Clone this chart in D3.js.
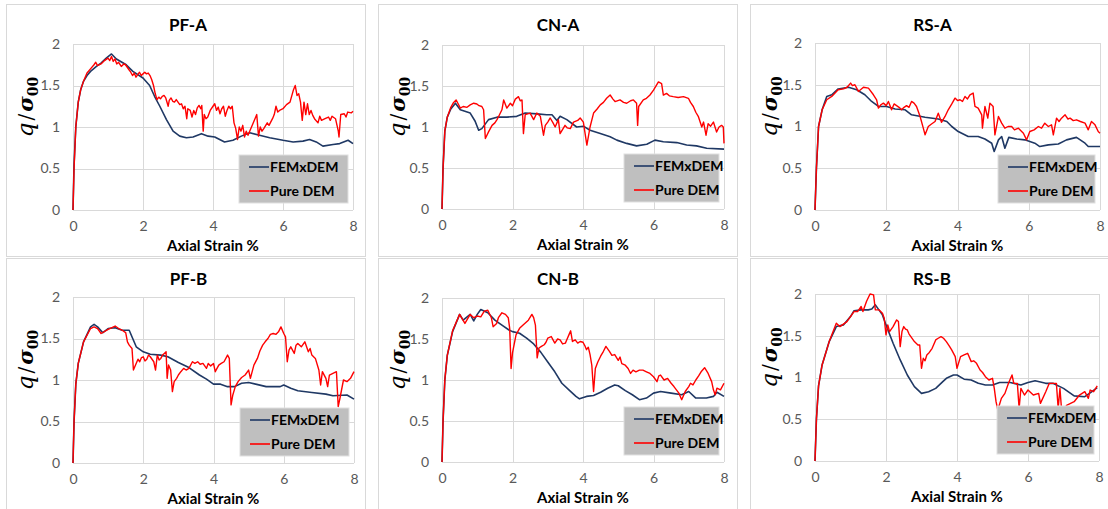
<!DOCTYPE html>
<html>
<head>
<meta charset="utf-8">
<script src="https://d3js.org/d3.v7.min.js"></script>
<style>
  body { margin: 0; background: #fff; }
  svg { display: block; font-family: Lato, "Open Sans", sans-serif; }
</style>
</head>
<body>
<script>
// ---- data ----
var panelTitles = ["PF-A", "CN-A", "RS-A", "PF-B", "CN-B", "RS-B"];
var seriesNames = ["FEMxDEM", "Pure DEM"];
var xTicks = [0, 2, 4, 6, 8];
var yTicks = [0, 0.5, 1, 1.5, 2];

var pfA_fem = [[0,0],[0.03,0.55],[0.08,1.0],[0.15,1.3],[0.22,1.45],[0.3,1.55],[0.4,1.62],[0.5,1.67],[0.67,1.73],[0.8,1.77],[0.95,1.83],[1.1,1.88],[1.24,1.82],[1.52,1.75],[1.71,1.67],[2.0,1.59],[2.19,1.5],[2.33,1.37],[2.48,1.25],[2.67,1.09],[2.86,0.95],[3.05,0.89],[3.24,0.87],[3.43,0.88],[3.67,0.92],[3.86,0.89],[4.05,0.88],[4.33,0.82],[4.57,0.84],[4.81,0.89],[5.05,0.93],[5.33,0.9],[5.62,0.87],[6.0,0.84],[6.29,0.82],[6.57,0.83],[6.76,0.85],[6.95,0.82],[7.14,0.77],[7.43,0.79],[7.62,0.8],[7.86,0.84],[8.0,0.8]];
var pfA_dem = [[0,0],[0.03,0.5],[0.08,1.0],[0.15,1.3],[0.22,1.45],[0.3,1.55],[0.4,1.65],[0.5,1.7],[0.6,1.75],[0.65,1.78],[0.7,1.74],[0.8,1.76],[0.9,1.8],[1.0,1.83],[1.05,1.8],[1.1,1.85],[1.15,1.79],[1.2,1.82],[1.25,1.76],[1.3,1.78],[1.38,1.73],[1.45,1.76],[1.5,1.75],[1.55,1.72],[1.6,1.69],[1.65,1.66],[1.7,1.62],[1.75,1.65],[1.8,1.6],[1.85,1.63],[1.9,1.66],[1.95,1.62],[2.0,1.64],[2.05,1.66],[2.1,1.64],[2.15,1.65],[2.2,1.62],[2.25,1.57],[2.3,1.5],[2.35,1.4],[2.4,1.33],[2.45,1.36],[2.5,1.34],[2.55,1.37],[2.6,1.38],[2.65,1.35],[2.72,1.25],[2.75,1.32],[2.8,1.35],[2.85,1.31],[2.9,1.3],[2.95,1.33],[3.0,1.3],[3.05,1.27],[3.1,1.28],[3.15,1.22],[3.2,1.25],[3.25,1.1],[3.28,1.22],[3.35,1.2],[3.4,1.12],[3.45,1.2],[3.5,1.15],[3.55,1.23],[3.6,1.26],[3.65,1.22],[3.68,1.26],[3.72,0.95],[3.75,1.15],[3.8,1.1],[3.85,1.12],[3.92,1.2],[4.0,1.25],[4.05,1.28],[4.1,1.2],[4.15,1.24],[4.2,1.16],[4.25,1.22],[4.3,1.25],[4.35,1.13],[4.4,1.2],[4.45,1.25],[4.5,1.22],[4.55,1.25],[4.6,1.05],[4.65,0.98],[4.7,0.85],[4.75,1.0],[4.8,0.95],[4.85,1.02],[4.9,0.88],[4.95,0.95],[5.0,0.9],[5.1,1.0],[5.2,1.1],[5.25,1.15],[5.3,0.89],[5.35,1.0],[5.4,0.95],[5.45,0.98],[5.55,1.05],[5.6,1.02],[5.7,1.1],[5.75,1.15],[5.8,1.25],[5.85,1.18],[5.9,1.2],[6.0,1.22],[6.1,1.27],[6.2,1.3],[6.3,1.45],[6.35,1.5],[6.4,1.38],[6.45,1.4],[6.5,1.3],[6.55,1.08],[6.6,1.3],[6.65,1.15],[6.7,1.28],[6.75,1.15],[6.8,1.2],[6.85,1.14],[6.9,1.1],[7.0,1.05],[7.05,1.13],[7.1,1.08],[7.2,1.1],[7.3,1.12],[7.35,1.08],[7.4,1.13],[7.5,1.1],[7.58,0.95],[7.6,0.88],[7.65,1.15],[7.75,1.16],[7.8,1.12],[7.85,1.18],[7.95,1.17],[8.0,1.19]];

var cnA_fem = [[0,0],[0.03,0.5],[0.08,0.95],[0.15,1.12],[0.25,1.22],[0.38,1.29],[0.52,1.21],[0.8,1.17],[0.94,1.07],[1.04,0.96],[1.13,0.98],[1.32,1.09],[1.56,1.12],[1.84,1.12],[2.12,1.13],[2.36,1.17],[2.69,1.16],[2.97,1.15],[3.12,1.15],[3.26,1.08],[3.35,1.13],[3.54,1.09],[3.82,1.0],[4.01,1.01],[4.2,0.96],[4.49,0.92],[4.77,0.88],[4.96,0.84],[5.24,0.8],[5.52,0.77],[5.81,0.79],[6.04,0.84],[6.28,0.82],[6.66,0.81],[6.94,0.78],[7.22,0.77],[7.51,0.74],[8.0,0.73]];
var cnA_dem = [[0,0],[0.03,0.5],[0.08,0.95],[0.15,1.12],[0.25,1.24],[0.33,1.3],[0.4,1.33],[0.45,1.29],[0.52,1.23],[0.6,1.25],[0.71,1.24],[0.8,1.27],[0.9,1.29],[0.99,1.28],[1.05,1.26],[1.13,1.25],[1.18,1.21],[1.23,0.86],[1.32,0.94],[1.42,1.02],[1.5,1.05],[1.56,1.09],[1.62,1.14],[1.7,1.21],[1.75,1.33],[1.84,1.23],[1.94,1.29],[2.0,1.26],[2.08,1.34],[2.17,1.37],[2.22,1.32],[2.27,1.33],[2.31,0.92],[2.36,1.15],[2.5,1.17],[2.6,1.09],[2.69,1.17],[2.79,1.13],[2.88,0.9],[2.93,1.02],[3.0,1.06],[3.07,1.11],[3.15,1.05],[3.21,1.0],[3.3,1.09],[3.35,0.92],[3.49,1.02],[3.55,0.99],[3.64,0.98],[3.73,1.06],[3.85,1.08],[3.92,1.11],[4.01,1.06],[4.11,0.78],[4.2,1.0],[4.3,1.17],[4.4,1.22],[4.49,1.27],[4.58,1.3],[4.67,1.35],[4.77,1.39],[4.85,1.34],[4.91,1.31],[5.05,1.33],[5.15,1.3],[5.24,1.29],[5.35,1.32],[5.43,1.33],[5.52,1.29],[5.55,1.02],[5.58,1.25],[5.71,1.33],[5.8,1.35],[5.9,1.39],[6.0,1.45],[6.14,1.55],[6.23,1.53],[6.28,1.39],[6.37,1.41],[6.45,1.38],[6.56,1.37],[6.7,1.36],[6.85,1.37],[6.99,1.35],[7.05,1.3],[7.13,1.25],[7.2,1.18],[7.27,1.13],[7.37,1.0],[7.42,1.06],[7.49,0.9],[7.55,1.04],[7.62,1.01],[7.7,1.06],[7.79,0.94],[7.86,1.0],[7.93,1.02],[7.98,1.0],[8.0,0.8]];

var rsA_fem = [[0,0],[0.04,0.5],[0.1,1.0],[0.2,1.2],[0.33,1.36],[0.47,1.38],[0.65,1.45],[0.94,1.47],[1.17,1.44],[1.4,1.38],[1.59,1.3],[1.78,1.24],[2.01,1.24],[2.25,1.21],[2.53,1.2],[2.71,1.14],[3.09,1.11],[3.46,1.09],[3.7,1.06],[3.84,1.0],[4.02,0.94],[4.3,0.88],[4.58,0.88],[4.77,0.85],[4.96,0.8],[5.03,0.7],[5.15,0.84],[5.24,0.88],[5.33,0.74],[5.44,0.87],[5.66,0.85],[5.89,0.84],[6.17,0.8],[6.31,0.76],[6.55,0.78],[6.83,0.79],[7.06,0.84],[7.34,0.87],[7.58,0.8],[7.67,0.76],[8.0,0.76]];
var rsA_dem = [[0,0],[0.04,0.5],[0.1,1.0],[0.2,1.2],[0.33,1.32],[0.47,1.36],[0.65,1.44],[0.8,1.45],[0.9,1.47],[1.0,1.52],[1.05,1.49],[1.12,1.5],[1.22,1.42],[1.36,1.47],[1.5,1.46],[1.64,1.38],[1.73,1.32],[1.78,1.22],[1.85,1.26],[1.92,1.28],[2.0,1.25],[2.06,1.3],[2.15,1.2],[2.22,1.27],[2.29,1.25],[2.36,1.23],[2.43,1.2],[2.5,1.23],[2.57,1.25],[2.64,1.23],[2.71,1.3],[2.78,1.28],[2.85,1.24],[2.95,1.12],[3.04,0.98],[3.09,0.9],[3.18,1.0],[3.27,1.03],[3.37,1.06],[3.46,1.16],[3.55,1.05],[3.65,1.12],[3.74,1.2],[3.84,1.27],[3.93,1.34],[4.0,1.31],[4.07,1.32],[4.14,1.3],[4.21,1.36],[4.28,1.33],[4.35,1.38],[4.44,1.4],[4.49,1.24],[4.58,1.22],[4.68,1.14],[4.7,0.98],[4.77,1.24],[4.85,1.1],[4.91,1.28],[5.0,1.24],[5.05,0.9],[5.15,1.12],[5.24,1.04],[5.33,0.98],[5.42,1.0],[5.52,1.0],[5.6,0.96],[5.71,0.98],[5.85,0.92],[5.94,0.84],[6.03,0.94],[6.15,0.96],[6.27,1.0],[6.36,0.98],[6.45,1.04],[6.55,1.0],[6.64,1.02],[6.69,0.9],[6.78,1.1],[6.85,1.06],[6.92,1.1],[7.02,1.14],[7.1,1.09],[7.16,1.1],[7.25,1.07],[7.34,1.08],[7.45,1.06],[7.58,1.04],[7.67,0.96],[7.76,1.06],[7.86,1.02],[7.95,0.94],[8.0,0.92]];

var pfB_fem = [[0,0],[0.03,0.5],[0.08,0.95],[0.15,1.2],[0.3,1.46],[0.5,1.64],[0.6,1.67],[0.7,1.64],[0.85,1.57],[1.0,1.62],[1.2,1.63],[1.4,1.6],[1.6,1.6],[1.7,1.5],[1.8,1.4],[2.0,1.34],[2.2,1.31],[2.5,1.3],[2.7,1.28],[3.0,1.21],[3.3,1.15],[3.6,1.06],[3.8,1.01],[4.0,0.95],[4.2,0.95],[4.4,0.92],[4.6,0.92],[4.8,0.96],[5.0,0.97],[5.2,0.95],[5.5,0.92],[5.9,0.92],[6.0,0.94],[6.2,0.9],[6.4,0.87],[6.8,0.85],[7.2,0.83],[7.4,0.81],[7.8,0.82],[8.0,0.77]];
var pfB_dem = [[0,0],[0.03,0.5],[0.08,0.95],[0.15,1.2],[0.3,1.46],[0.5,1.62],[0.6,1.64],[0.7,1.62],[0.8,1.56],[1.0,1.61],[1.2,1.65],[1.3,1.62],[1.4,1.6],[1.5,1.57],[1.55,1.46],[1.6,1.42],[1.68,1.38],[1.72,1.12],[1.78,1.18],[1.85,1.25],[1.9,1.22],[1.95,1.27],[2.0,1.28],[2.05,1.23],[2.1,1.25],[2.15,1.3],[2.2,1.28],[2.3,1.22],[2.35,1.12],[2.4,1.3],[2.45,1.24],[2.5,1.26],[2.55,1.3],[2.6,1.32],[2.65,1.34],[2.68,1.02],[2.72,1.18],[2.78,1.12],[2.83,0.86],[2.88,0.98],[2.95,1.02],[3.0,1.06],[3.07,1.1],[3.15,1.14],[3.22,1.12],[3.3,1.14],[3.4,1.22],[3.47,1.2],[3.55,1.22],[3.62,1.19],[3.7,1.2],[3.8,1.14],[3.85,1.2],[3.92,1.17],[4.0,1.2],[4.05,1.1],[4.15,1.18],[4.22,1.2],[4.3,1.22],[4.4,1.3],[4.45,1.26],[4.5,0.7],[4.55,0.82],[4.62,0.92],[4.7,0.98],[4.8,1.03],[4.9,1.06],[5.0,1.12],[5.05,1.02],[5.15,1.18],[5.25,1.26],[5.32,1.35],[5.4,1.42],[5.47,1.46],[5.55,1.5],[5.62,1.55],[5.7,1.56],[5.78,1.55],[5.85,1.58],[5.92,1.64],[6.0,1.56],[6.05,1.52],[6.1,1.22],[6.15,1.36],[6.2,1.4],[6.3,1.32],[6.35,1.42],[6.4,1.44],[6.5,1.4],[6.6,1.46],[6.7,1.34],[6.75,1.38],[6.8,1.3],[6.9,1.26],[7.0,1.12],[7.05,0.94],[7.1,1.1],[7.2,1.02],[7.25,0.92],[7.3,1.06],[7.4,1.08],[7.5,1.1],[7.55,0.68],[7.6,0.78],[7.7,1.0],[7.8,0.98],[7.9,1.02],[8.0,1.1]];

var cnB_fem = [[0,0],[0.03,0.5],[0.08,1.0],[0.15,1.3],[0.3,1.59],[0.5,1.8],[0.6,1.73],[0.8,1.8],[0.9,1.72],[1.0,1.8],[1.1,1.86],[1.3,1.82],[1.5,1.73],[1.7,1.67],[1.9,1.61],[2.0,1.59],[2.2,1.57],[2.4,1.51],[2.6,1.44],[2.8,1.34],[3.0,1.22],[3.2,1.1],[3.4,0.96],[3.6,0.88],[3.8,0.8],[3.9,0.77],[4.1,0.8],[4.3,0.81],[4.5,0.85],[4.7,0.9],[4.9,0.94],[5.0,0.93],[5.2,0.87],[5.4,0.82],[5.6,0.76],[5.8,0.78],[6.0,0.84],[6.2,0.86],[6.5,0.84],[6.8,0.82],[7.0,0.86],[7.2,0.78],[7.5,0.78],[7.7,0.8],[7.8,0.85],[8.0,0.8]];
var cnB_dem = [[0,0],[0.03,0.5],[0.08,1.0],[0.15,1.3],[0.3,1.6],[0.5,1.8],[0.65,1.69],[0.8,1.8],[0.9,1.76],[1.0,1.78],[1.1,1.77],[1.2,1.84],[1.3,1.85],[1.4,1.76],[1.45,1.65],[1.55,1.69],[1.6,1.76],[1.7,1.82],[1.8,1.8],[1.88,1.76],[1.92,1.63],[1.96,1.14],[2.0,1.33],[2.1,1.55],[2.2,1.63],[2.3,1.67],[2.45,1.73],[2.55,1.8],[2.6,1.76],[2.65,1.67],[2.7,1.27],[2.75,1.39],[2.82,1.41],[2.9,1.43],[2.95,1.46],[3.0,1.51],[3.1,1.53],[3.15,1.49],[3.2,1.45],[3.28,1.5],[3.35,1.49],[3.42,1.44],[3.5,1.45],[3.55,1.5],[3.6,1.55],[3.65,1.6],[3.7,1.47],[3.78,1.49],[3.85,1.45],[3.92,1.47],[4.0,1.46],[4.05,1.42],[4.1,1.37],[4.15,1.4],[4.2,1.31],[4.25,1.18],[4.3,0.86],[4.35,1.14],[4.42,1.22],[4.5,1.29],[4.58,1.35],[4.65,1.41],[4.75,1.35],[4.82,1.3],[4.9,1.31],[5.0,1.24],[5.05,1.28],[5.1,1.2],[5.2,1.18],[5.28,1.14],[5.35,1.08],[5.42,1.12],[5.5,1.1],[5.6,1.12],[5.7,1.12],[5.8,1.1],[5.9,1.08],[6.0,1.04],[6.1,0.98],[6.15,1.05],[6.2,1.06],[6.3,1.0],[6.4,1.02],[6.5,0.96],[6.58,0.92],[6.65,0.88],[6.72,0.84],[6.8,0.76],[6.9,0.86],[7.0,0.92],[7.05,0.96],[7.12,0.94],[7.2,1.0],[7.28,1.05],[7.35,1.1],[7.45,1.15],[7.55,1.08],[7.65,0.98],[7.7,0.88],[7.75,0.82],[7.8,0.9],[7.9,0.88],[8.0,0.96]];

var rsB_fem = [[0,0],[0.04,0.5],[0.1,0.9],[0.2,1.15],[0.4,1.43],[0.6,1.61],[0.8,1.63],[1.0,1.73],[1.1,1.8],[1.3,1.81],[1.5,1.81],[1.6,1.82],[1.7,1.87],[1.8,1.81],[1.9,1.75],[2.0,1.63],[2.2,1.41],[2.4,1.21],[2.6,1.03],[2.8,0.89],[3.0,0.81],[3.2,0.83],[3.4,0.87],[3.6,0.95],[3.7,0.99],[3.9,1.03],[4.0,1.03],[4.2,0.98],[4.4,0.97],[4.6,0.93],[4.8,0.91],[5.0,0.91],[5.2,0.94],[5.5,0.94],[5.8,0.91],[6.0,0.94],[6.2,0.96],[6.5,0.93],[6.7,0.93],[7.0,0.87],[7.3,0.78],[7.6,0.77],[7.8,0.83],[7.95,0.88]];
var rsB_dem = [[0,0],[0.04,0.5],[0.1,0.9],[0.2,1.15],[0.4,1.43],[0.6,1.65],[0.7,1.61],[0.9,1.67],[1.1,1.79],[1.2,1.79],[1.3,1.85],[1.35,1.79],[1.45,1.91],[1.55,2.0],[1.65,1.99],[1.7,1.81],[1.8,1.81],[1.9,1.77],[1.95,1.71],[2.0,1.51],[2.05,1.63],[2.1,1.55],[2.2,1.61],[2.3,1.69],[2.35,1.67],[2.4,1.37],[2.45,1.55],[2.5,1.61],[2.55,1.58],[2.6,1.57],[2.65,1.52],[2.7,1.49],[2.8,1.43],[2.9,1.39],[2.95,1.39],[3.0,1.11],[3.05,1.23],[3.1,1.2],[3.15,1.27],[3.22,1.3],[3.3,1.35],[3.4,1.45],[3.47,1.47],[3.55,1.49],[3.62,1.47],[3.7,1.43],[3.78,1.38],[3.85,1.33],[3.95,1.25],[4.0,1.11],[4.1,1.25],[4.2,1.27],[4.3,1.29],[4.4,1.19],[4.47,1.2],[4.55,1.17],[4.65,1.09],[4.72,1.06],[4.8,1.01],[4.9,0.97],[5.0,0.99],[5.05,0.87],[5.1,0.71],[5.15,0.61],[5.25,0.75],[5.35,0.81],[5.45,0.93],[5.55,1.03],[5.6,0.93],[5.7,0.93],[5.75,0.63],[5.8,0.87],[5.9,0.79],[6.0,0.85],[6.15,0.79],[6.3,0.81],[6.35,0.69],[6.5,0.83],[6.6,0.93],[6.8,0.93],[6.85,0.63],[6.9,0.87],[6.95,0.59],[7.1,0.67],[7.3,0.71],[7.45,0.79],[7.6,0.83],[7.7,0.75],[7.75,0.85],[7.85,0.83],[7.95,0.9]];

var femSeries = [pfA_fem, cnA_fem, rsA_fem, pfB_fem, cnB_fem, rsB_fem];
var demSeries = [pfA_dem, cnA_dem, rsA_dem, pfB_dem, cnB_dem, rsB_dem];

// ---- layout (pixel boxes) ----
var W = 1108, H = 509;
var colLeft = [6, 378, 750], rowTop = [4, 258];
var panelW = 359, panelH = 252;
// plot area per panel: [left, right, top, bottom] in page px
var plotBox = [
  [73, 353, 44, 210], [442, 724, 45, 209], [815, 1100, 43, 210],
  [73, 354, 297, 463], [442, 724, 298, 462], [815, 1099, 294, 461]
];
var legendW = [109, 95, 97];
var colors = ["#1f3864", "#ff0000"];

var svg = d3.select("body").append("svg")
    .attr("width", W).attr("height", H);

panelTitles.forEach(function(title, i) {
  var col = i % 3, row = Math.floor(i / 3);
  var b = plotBox[i];
  var px = colLeft[col], py = rowTop[row];

  // panel frame
  svg.append("rect")
      .attr("x", px + 0.5).attr("y", py + 0.5)
      .attr("width", panelW).attr("height", panelH)
      .attr("fill", "#fff").attr("stroke", "#d9d9d9");

  var x = d3.scaleLinear().domain([0, 8]).range([b[0], b[1]]);
  var y = d3.scaleLinear().domain([0, 2]).range([b[3], b[2]]);

  var g = svg.append("g");

  // gridlines
  g.selectAll(".hg").data(yTicks).enter().append("line")
      .attr("x1", b[0]).attr("x2", b[1])
      .attr("y1", function(d) { return Math.round(y(d)) + 0.5; })
      .attr("y2", function(d) { return Math.round(y(d)) + 0.5; })
      .attr("stroke", "#d9d9d9");
  g.selectAll(".vg").data(xTicks).enter().append("line")
      .attr("y1", b[2]).attr("y2", b[3])
      .attr("x1", function(d) { return Math.round(x(d)) + 0.5; })
      .attr("x2", function(d) { return Math.round(x(d)) + 0.5; })
      .attr("stroke", "#d9d9d9");

  // axes (labels only, like Excel)
  var xa = g.append("g").attr("transform", "translate(0," + b[3] + ")")
      .call(d3.axisBottom(x).tickValues(xTicks).tickSize(0).tickPadding(11).tickFormat(d3.format("~g")));
  var ya = g.append("g").attr("transform", "translate(" + b[0] + ",0)")
      .call(d3.axisLeft(y).tickValues(yTicks).tickSize(0).tickPadding(13).tickFormat(d3.format("~g")));
  [xa, ya].forEach(function(a) {
    a.select(".domain").remove();
    a.selectAll("text").attr("fill", "#595959").style("font-size", "14px")
        .style("font-family", "Lato, sans-serif");
  });

  // series
  var line = d3.line()
      .x(function(d) { return x(d[0]); })
      .y(function(d) { return y(d[1]); });
  g.append("path").datum(femSeries[i])
      .attr("fill", "none").attr("stroke", colors[0]).attr("stroke-width", 1.6)
      .attr("stroke-linejoin", "round").attr("d", line);
  g.append("path").datum(demSeries[i])
      .attr("fill", "none").attr("stroke", colors[1]).attr("stroke-width", 1.4)
      .attr("stroke-linejoin", "round").attr("d", line);

  // title
  svg.append("text")
      .attr("x", (b[0] + b[1]) / 2 - 25).attr("y", py + 27)
      .attr("text-anchor", "middle")
      .style("font-size", "17px").style("font-weight", "bold").attr("fill", "#000")
      .text(title);

  // x label
  svg.append("text")
      .attr("x", (b[0] + b[1]) / 2).attr("y", b[3] + 41)
      .attr("text-anchor", "middle")
      .style("font-size", "15px").style("font-weight", "bold").attr("fill", "#000")
      .text("Axial Strain %");

  // y label q/sigma00
  var cy = (b[2] + b[3]) / 2 - 20;
  var yl = svg.append("text")
      .attr("transform", "translate(" + (px + 27) + "," + cy + ") rotate(-90)")
      .attr("text-anchor", "middle")
      .style("font-family", "'DejaVu Serif', serif").attr("fill", "#000");
  yl.append("tspan").style("font-style", "italic").style("font-size", "23px").text("q");
  yl.append("tspan").attr("dx", 2).style("font-size", "20px").text("/");
  yl.append("tspan").attr("dx", 2).style("font-style", "italic").style("font-weight", "bold").style("font-size", "21px").text("σ");
  yl.append("tspan").style("font-weight", "bold").style("font-size", "14px").attr("dy", 5).text("00");

  // legend
  var lw = legendW[col], lh = 48;
  var lx = b[1] - 5 - lw, ly = b[3] - 7 - lh;
  var lg = svg.append("g").attr("transform", "translate(" + lx + "," + ly + ")");
  lg.append("rect").attr("width", lw).attr("height", lh)
      .attr("fill", "#bfbfbf").attr("stroke", "#e0e0e0");
  seriesNames.forEach(function(name, k) {
    var yy = 12 + k * 24;
    lg.append("line").attr("x1", 10).attr("x2", 30).attr("y1", yy).attr("y2", yy)
        .attr("stroke", colors[k]).attr("stroke-width", 1.6);
    lg.append("text").attr("x", 31).attr("y", yy + 5)
        .style("font-size", "14px").style("font-weight", "bold").attr("fill", "#000")
        .text(name);
  });
});
</script>
</body>
</html>
